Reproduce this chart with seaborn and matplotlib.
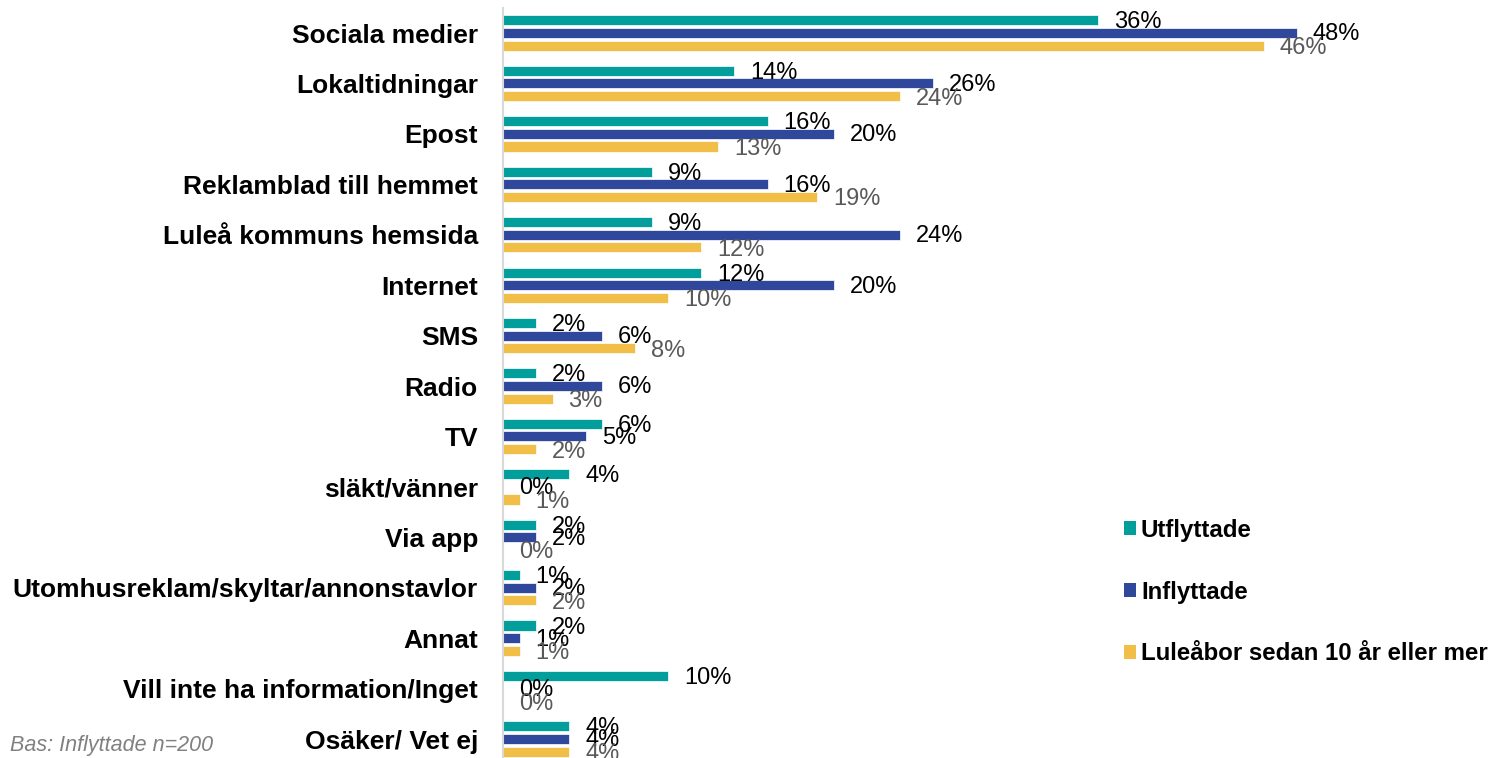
import pandas as pd
import matplotlib
matplotlib.use("Agg")
import matplotlib.pyplot as plt
import seaborn as sns
from matplotlib.patches import Patch

# ── Data ─────────────────────────────────────────────────────────────────────
categories = [
    "Sociala medier", "Lokaltidningar", "Epost", "Reklamblad till hemmet",
    "Luleå kommuns hemsida", "Internet", "SMS", "Radio", "TV",
    "släkt/vänner", "Via app", "Utomhusreklam/skyltar/annonstavlor",
    "Annat", "Vill inte ha information/Inget", "Osäker/ Vet ej",
]
groups = ["Utflyttade", "Inflyttade", "Luleåbor sedan 10 år eller mer"]
utflyttade = [36, 14, 16, 9, 9, 12, 2, 2, 6, 4, 2, 1, 2, 10, 4]
inflyttade = [48, 26, 20, 16, 24, 20, 6, 6, 5, 0, 2, 2, 1, 0, 4]
lulebor = [46, 24, 13, 19, 12, 10, 8, 3, 2, 1, 0, 2, 1, 0, 4]
note = "Bas: Inflyttade n=200"

colors = ["#029E9C", "#30489C", "#F1BE48"]
label_colors = ["black", "black", "#595959"]
label_drop = [1.5, 1.0, 1.8]  # points the value labels sit below bar centre

df = pd.DataFrame({
    "kanal": categories * 3,
    "grupp": [g for g in groups for _ in categories],
    "andel": utflyttade + inflyttade + lulebor,
})

# ── Chart ────────────────────────────────────────────────────────────────────
sns.set_style("white")
plt.rcParams["font.family"] = ["Liberation Sans", "DejaVu Sans"]
plt.rcParams["text.color"] = "black"

fig = plt.figure(figsize=(14.9, 7.58), dpi=100)
ax = fig.add_axes([503 / 1490, -0.0082, 1 - 503 / 1490, 0.9979])

sns.barplot(
    data=df, y="kanal", x="andel", hue="grupp", orient="h",
    palette=colors, saturation=1, width=0.75, gap=0.2, legend=False, ax=ax,
    edgecolor="white", linewidth=0.5,
)

for cont, col, drop in zip(ax.containers, label_colors, label_drop):
    for bar, v in zip(cont, cont.datavalues):
        ax.annotate(f"{v:.0f}%", (bar.get_width(), bar.get_y() + bar.get_height() / 2),
                    xytext=(11.5, -drop), textcoords="offset points",
                    ha="left", va="center", fontsize=17, color=col)

ax.set_xlim(0, 59.7)
ax.set_ylim(14.5, -0.5)
ax.set_xlabel("")
ax.set_ylabel("")
ax.set_xticks([])
ax.tick_params(axis="y", length=0, pad=18, labelsize=19, labelcolor="black")
for lbl in ax.get_yticklabels():
    lbl.set_fontweight("bold")

for side in ["top", "right", "bottom"]:
    ax.spines[side].set_visible(False)
ax.spines["left"].set_color("#D9D9D9")
ax.spines["left"].set_linewidth(1.5)

handles = [Patch(facecolor=c, edgecolor="none") for c in colors]
fig.legend(
    handles, groups, loc="center left", bbox_to_anchor=(1102 / 1490, 1 - 592 / 758),
    frameon=False, handlelength=0.52, handleheight=0.52, handletextpad=0.2,
    labelspacing=1.62, prop={"weight": "bold", "size": 17.3},
)

fig.text(10 / 1490, 1 - 746 / 758, note, fontsize=15.5, style="italic",
         color="#808080", va="center", ha="left")

plt.savefig("out.png", dpi=100)
plt.close()
